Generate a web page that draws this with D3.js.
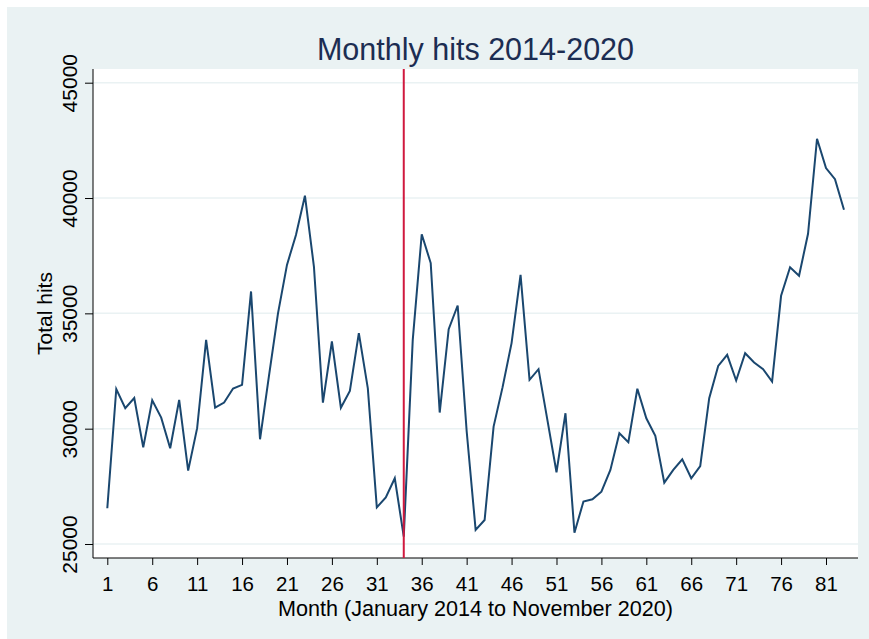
<!DOCTYPE html>
<html>
<head>
<meta charset="utf-8">
<script src="https://cdn.jsdelivr.net/npm/d3@7"></script>
<style>
  html, body { margin: 0; padding: 0; background: #ffffff; }
  svg { display: block; }
  text { font-family: Arial, "Liberation Sans", Helvetica, sans-serif; }
</style>
</head>
<body>
<svg id="chart" width="869" height="639"></svg>
<script>
// ---- Data ----
const months = d3.range(1, 84);
const hits = [
  26550, 31720, 30890, 31330, 29190, 31230, 30480, 29150, 31250, 28180,
  30020, 33850, 30910, 31130, 31740, 31900, 35950, 29540, 32300, 35000,
  37100, 38400, 40100, 37030, 31130, 33780, 30910, 31640, 34140, 31750,
  26590, 27020, 27850, 25320, 33850, 38430, 37180, 30700, 34310, 35340,
  29900, 25610, 26040, 30090, 31800, 33710, 36670, 32120, 32580, 30350,
  28110, 30670, 25490, 26840, 26940, 27270, 28210, 29800, 29410, 31730,
  30450, 29690, 27660, 28210, 28670, 27850, 28380, 31320, 32720, 33200,
  32090, 33270, 32870, 32580, 32040, 35760, 37000, 36630, 38450, 42570,
  41300, 40820, 39490
];
const xTicks = [1, 6, 11, 16, 21, 26, 31, 36, 41, 46, 51, 56, 61, 66, 71, 76, 81];
const yTicks = [25000, 30000, 35000, 40000, 45000];
const markerMonth = [34];
const titleText = "Monthly hits 2014-2020";
const xTitle = "Month (January 2014 to November 2020)";
const yTitle = "Total hits";

// ---- Layout ----
const svg = d3.select("#chart");
const plot = { left: 93, right: 858, top: 69, bottom: 558 };

const x = d3.scaleLinear().domain([1, 81]).range([107.3, 826]);
const y = d3.scaleLinear().domain([25000, 45000]).range([544, 82.7]);

// outer background
svg.append("rect").attr("x", 7).attr("y", 7).attr("width", 862).attr("height", 632)
  .attr("fill", "#eaf2f3");

// plot region
svg.append("rect").attr("x", plot.left).attr("y", plot.top)
  .attr("width", plot.right - plot.left).attr("height", plot.bottom - plot.top)
  .attr("fill", "#ffffff");

// gridlines
svg.append("g").selectAll("line").data(yTicks).join("line")
  .attr("x1", plot.left).attr("x2", plot.right)
  .attr("y1", d => y(d)).attr("y2", d => y(d))
  .attr("stroke", "#eaf2f3").attr("stroke-width", 1.5);

// Y axis
const yAxis = svg.append("g").attr("transform", `translate(${plot.left},0)`)
  .call(d3.axisLeft(y).tickValues(yTicks).tickSize(8).tickSizeOuter(0).tickFormat(d3.format("d")));
yAxis.select(".domain").remove();
yAxis.selectAll(".tick line").attr("stroke", "#000").attr("stroke-width", 1);
yAxis.selectAll(".tick text")
  .attr("font-size", 21).attr("fill", "#000")
  .attr("transform", "rotate(-90)")
  .attr("x", 0).attr("y", -16)
  .attr("dy", 0)
  .attr("text-anchor", "middle");
svg.append("line").attr("x1", plot.left).attr("x2", plot.left)
  .attr("y1", plot.top).attr("y2", plot.bottom).attr("stroke", "#000").attr("stroke-width", 1);

// X axis
const xAxis = svg.append("g").attr("transform", `translate(0,${plot.bottom})`)
  .call(d3.axisBottom(x).tickValues(xTicks).tickSize(7).tickSizeOuter(0).tickFormat(d3.format("d")));
xAxis.select(".domain").remove();
xAxis.selectAll(".tick line").attr("stroke", "#000").attr("stroke-width", 1);
xAxis.selectAll(".tick text")
  .attr("font-size", 20.5).attr("fill", "#000")
  .attr("y", 33).attr("dy", 0);
svg.append("line").attr("x1", plot.left).attr("x2", plot.right)
  .attr("y1", plot.bottom).attr("y2", plot.bottom).attr("stroke", "#000").attr("stroke-width", 1);

// data line
const line = d3.line().x((d, i) => x(months[i])).y(d => y(d));
svg.append("path").datum(hits)
  .attr("d", line)
  .attr("fill", "none")
  .attr("stroke", "#1a476f")
  .attr("stroke-width", 2)
  .attr("stroke-linejoin", "miter");

// vertical marker
svg.append("g").selectAll("line").data(markerMonth).join("line")
  .attr("x1", d => x(d)).attr("x2", d => x(d))
  .attr("y1", plot.top).attr("y2", plot.bottom)
  .attr("stroke", "#d0193f").attr("stroke-width", 2);

// titles
svg.append("text").attr("x", (plot.left + plot.right) / 2).attr("y", 59.5)
  .attr("text-anchor", "middle").attr("font-size", 30.5).attr("fill", "#1c2d52")
  .text(titleText);

svg.append("text").attr("x", (plot.left + plot.right) / 2).attr("y", 615.5)
  .attr("text-anchor", "middle").attr("font-size", 21.6).attr("fill", "#000")
  .text(xTitle);

svg.append("text")
  .attr("transform", `translate(52,${(plot.top + plot.bottom) / 2}) rotate(-90)`)
  .attr("text-anchor", "middle").attr("font-size", 21).attr("fill", "#000")
  .text(yTitle);
</script>
</body>
</html>
